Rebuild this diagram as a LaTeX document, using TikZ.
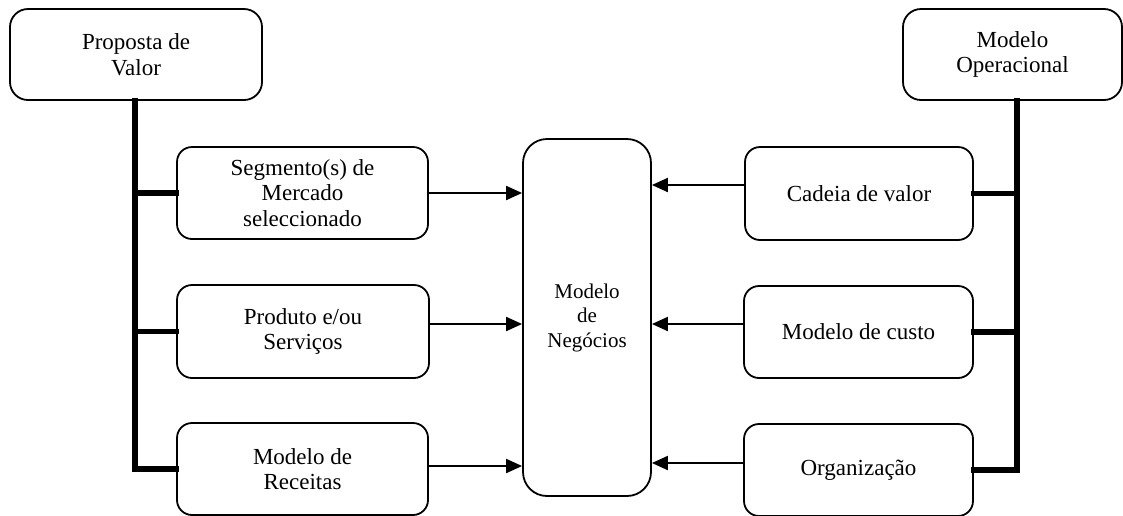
\documentclass[tikz,border=0pt]{standalone}
\usepackage{fontspec}
\setmainfont{Liberation Serif}
\usetikzlibrary{arrows.meta}
\begin{document}
\begin{tikzpicture}[x=1pt,y=-1pt,
  box/.style={draw, line width=1.8pt, rounded corners=15pt, align=center,
    inner sep=0pt, font=\fontsize{23}{25.5}\selectfont},
  spine/.style={line width=5.5pt, line join=miter, line cap=rect},
  arr/.style={line width=2pt, -{Triangle[length=16pt,width=14pt]}}]
\useasboundingbox (0,0) rectangle (1123,515);
\node[box, minimum width=252pt, minimum height=91pt, rounded corners=18pt] (pv) at (136,54.5) {Proposta de\\Valor};
\node[box, minimum width=219pt, minimum height=91pt, rounded corners=18pt] (mo) at (1012.5,54.5) {Modelo\\Operacional};
\node[box, minimum width=251pt, minimum height=92pt] (seg) at (302.5,193) {Segmento(s) de\\Mercado\\seleccionado};
\node[box, minimum width=252pt, minimum height=93pt] (prod) at (303,331.5) {Produto e/ou\\Serviços};
\node[box, minimum width=251pt, minimum height=92pt] (rec) at (302.5,469) {Modelo de\\Receitas};
\node[box, minimum width=128pt, minimum height=357pt, rounded corners=24pt, font=\fontsize{21}{24.5}\selectfont] (ctr) at (587,317.5) {Modelo\\de\\Negócios};
\node[box, minimum width=228pt, minimum height=93pt] (cad) at (859,193.5) {Cadeia de valor};
\node[box, minimum width=229pt, minimum height=92pt] (cost) at (858.5,332) {Modelo de custo};
\node[box, minimum width=229pt, minimum height=92pt] (org) at (858.5,470) {Organização};
% left spine
\draw[spine] ([xshift=-1pt]pv.south) |- (rec.west);
\draw[spine] ([xshift=-1pt]pv.south |- seg.west) -- (seg.west);
\draw[spine] ([xshift=-1pt]pv.south |- prod.west) -- (prod.west);
% right spine
\draw[spine] ([xshift=4.5pt]mo.south) |- (org.east);
\draw[spine] ([xshift=4.5pt]mo.south |- cad.east) -- (cad.east);
\draw[spine] ([xshift=4.5pt]mo.south |- cost.east) -- (cost.east);
% arrows into centre
\draw[arr] (seg.east) -- (seg.east -| ctr.west);
\draw[arr] ([yshift=7.5pt]prod.east) -- ([yshift=7.5pt]prod.east -| ctr.west);
\draw[arr] ([yshift=3pt]rec.east) -- ([yshift=3pt]rec.east -| ctr.west);
\draw[arr] ([yshift=8.5pt]cad.west) -- ([yshift=8.5pt]cad.west -| ctr.east);
\draw[arr] ([yshift=8pt]cost.west) -- ([yshift=8pt]cost.west -| ctr.east);
\draw[arr] ([yshift=7pt]org.west) -- ([yshift=7pt]org.west -| ctr.east);
\end{tikzpicture}
\end{document}
